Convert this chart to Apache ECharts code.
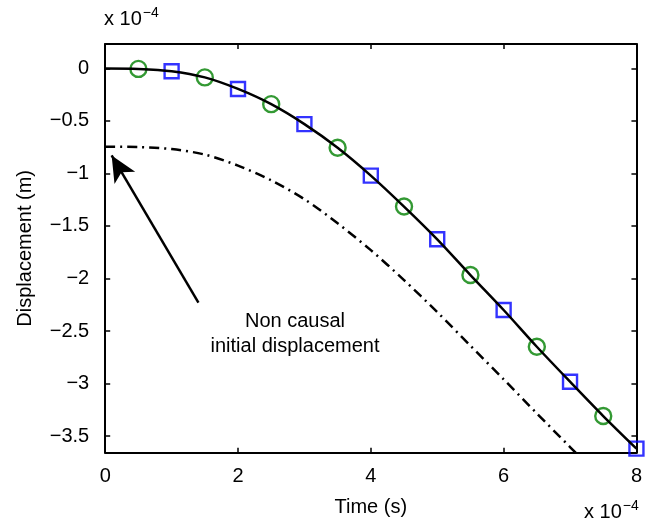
<!DOCTYPE html>
<html>
<head>
<meta charset="utf-8">
<script src="https://cdn.jsdelivr.net/npm/echarts@6/dist/echarts.min.js"></script>
<style>
  html, body { margin: 0; padding: 0; background: #ffffff; }
  #chart { width: 645px; height: 524px; }
</style>
</head>
<body>
<div id="chart"></div>
<script>
// Time in units of 1e-4 s, displacement in units of 1e-4 m
const curveTime = [0, 0.5, 1, 1.5, 2, 2.5, 3, 3.5, 4, 4.5, 5, 5.5, 6, 6.5, 7, 7.5, 8];
const curveDisp = [0, -0.004, -0.026, -0.085, -0.195, -0.34, -0.53, -0.755, -1.02, -1.315, -1.627, -1.967, -2.30, -2.65, -2.983, -3.31, -3.62];

const circleTime = [0.5, 1.5, 2.5, 3.5, 4.5, 5.5, 6.5, 7.5];
const circleDisp = [-0.004, -0.085, -0.34, -0.755, -1.315, -1.967, -2.65, -3.31];

const squareTime = [1, 2, 3, 4, 5, 6, 7, 8];
const squareDisp = [-0.026, -0.195, -0.53, -1.02, -1.627, -2.30, -2.983, -3.62];

// Non causal initial displacement response
const initTime = [0, 0.5, 1, 1.5, 2, 2.5, 3, 3.5, 4, 4.5, 5, 5.5, 6, 6.5, 7, 7.5];
const initDisp = [-0.745, -0.748, -0.768, -0.82, -0.925, -1.065, -1.245, -1.475, -1.73, -2.015, -2.32, -2.64, -2.96, -3.285, -3.605, -3.925];

const xTicks = [0, 2, 4, 6, 8];
const yTicks = [-3.5, -3, -2.5, -2, -1.5, -1, -0.5, 0];

// Annotation arrow: tail and head in data coordinates
const arrowTail = [1.404, -2.23];
const arrowHead = [0.097, -0.828];

const FONT = '"Liberation Sans", Arial, Helvetica, sans-serif';
const FS = 20;
const fmt = v => (v < 0 ? '\u2212' + String(-v) : String(v));
const zip = (a, b) => a.map((v, i) => [v, b[i]]);

const X_MIN = 0, X_MAX = 8;
const Y_MIN = -3.659, Y_MAX = 0.233;

const axisLine = { show: true, onZero: false, lineStyle: { color: '#000', width: 2 } };
const tickStyle = { show: true, inside: true, length: 5, lineStyle: { color: '#000', width: 1.5 } };

const chart = echarts.init(document.getElementById('chart'), null, { renderer: 'canvas' });

chart.setOption({
  animation: false,
  backgroundColor: '#ffffff',
  grid: { left: 105.2, top: 44, width: 536.3, height: 408.7, containLabel: false },
  xAxis: [
    {
      type: 'value', position: 'bottom', min: X_MIN, max: X_MAX,
      axisLine: axisLine, splitLine: { show: false },
      axisTick: Object.assign({}, tickStyle, { customValues: xTicks }),
      axisLabel: { customValues: xTicks, formatter: fmt, color: '#000', fontFamily: FONT, fontSize: FS, margin: 14 },
      name: 'Time (s)', nameLocation: 'middle', nameGap: 45,
      nameTextStyle: { color: '#000', fontFamily: FONT, fontSize: FS }
    },
    {
      type: 'value', position: 'top', min: X_MIN, max: X_MAX,
      axisLine: axisLine, splitLine: { show: false },
      axisTick: Object.assign({}, tickStyle, { customValues: xTicks }),
      axisLabel: { show: false }
    }
  ],
  yAxis: [
    {
      type: 'value', position: 'left', min: Y_MIN, max: Y_MAX,
      axisLine: axisLine, splitLine: { show: false },
      axisTick: Object.assign({}, tickStyle, { customValues: yTicks }),
      axisLabel: { customValues: yTicks, formatter: fmt, color: '#000', fontFamily: FONT, fontSize: FS, margin: 16 },
      name: 'Displacement (m)', nameLocation: 'middle', nameGap: 70,
      nameTextStyle: { color: '#000', fontFamily: FONT, fontSize: FS }
    },
    {
      type: 'value', position: 'right', min: Y_MIN, max: Y_MAX,
      axisLine: axisLine, splitLine: { show: false },
      axisTick: Object.assign({}, tickStyle, { customValues: yTicks }),
      axisLabel: { show: false }
    }
  ],
  series: [
    {
      name: 'Initial', type: 'line', data: zip(initTime, initDisp),
      smooth: 0.3, showSymbol: false, symbol: 'none', clip: true, z: 3,
      lineStyle: { color: '#000', width: 2.5, type: [10, 5, 2, 5] }
    },
    {
      name: 'Exact', type: 'line', data: zip(curveTime, curveDisp),
      smooth: 0.3, showSymbol: false, symbol: 'none', clip: true, z: 4,
      lineStyle: { color: '#000', width: 2.5 },
      markLine: {
        silent: true, symbol: ['none', 'arrow'], symbolSize: [18, 26],
        label: { show: false },
        lineStyle: { color: '#000', width: 2.5, type: 'solid' },
        data: [[{ coord: arrowTail }, { coord: arrowHead }]]
      }
    },
    {
      name: 'Scheme A', type: 'scatter', data: zip(circleTime, circleDisp),
      symbol: 'circle', symbolSize: 16, clip: false, z: 2,
      itemStyle: { color: 'rgba(0,0,0,0)', borderColor: '#008000', borderWidth: 2.4 }
    },
    {
      name: 'Scheme B', type: 'scatter', data: zip(squareTime, squareDisp),
      symbol: 'rect', symbolSize: 14, clip: false, z: 2,
      itemStyle: { color: 'rgba(0,0,0,0)', borderColor: '#0000ff', borderWidth: 2.4 }
    }
  ],
  graphic: [
    {
      type: 'text', left: 104, top: 6, z: 10,
      style: {
        text: '{a|x 10}{b|\u22124}', fill: '#000',
        rich: {
          a: { fontFamily: FONT, fontSize: FS, fill: '#000' },
          b: { fontFamily: FONT, fontSize: 14, fill: '#000', padding: [0, 0, 12, 1] }
        }
      }
    },
    {
      type: 'text', left: 584, top: 499, z: 10,
      style: {
        text: '{a|x 10}{b|\u22124}', fill: '#000',
        rich: {
          a: { fontFamily: FONT, fontSize: FS, fill: '#000' },
          b: { fontFamily: FONT, fontSize: 14, fill: '#000', padding: [0, 0, 12, 1] }
        }
      }
    },
    {
      type: 'text', x: 295, y: 334, z: 10,
      style: {
        text: 'Non causal\ninitial displacement', fill: '#000',
        fontFamily: FONT, fontSize: FS, lineHeight: 25,
        align: 'center', verticalAlign: 'middle'
      }
    }
  ]
});
</script>
</body>
</html>
